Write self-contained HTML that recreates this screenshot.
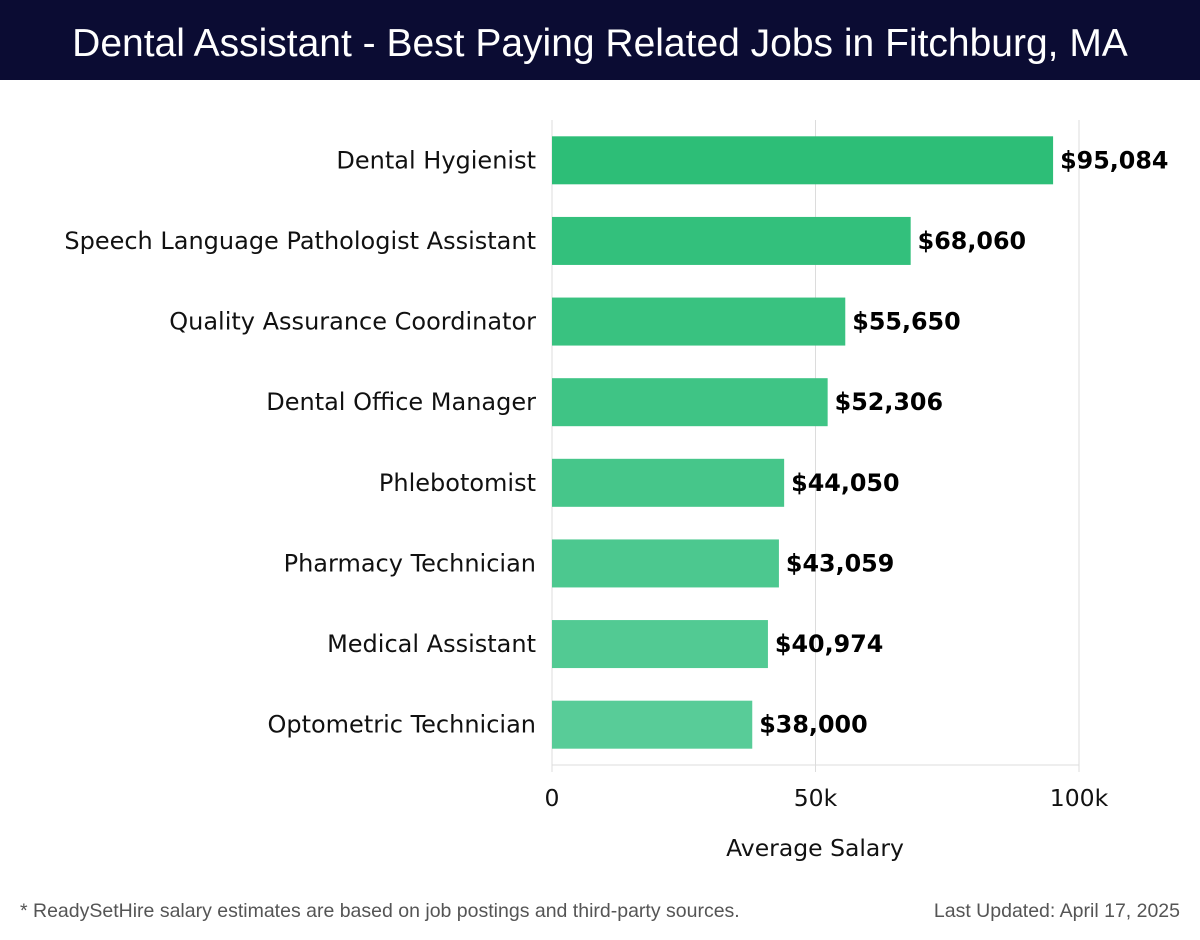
<!DOCTYPE html>
<html><head><meta charset="utf-8"><style>
body{margin:0;width:1200px;height:940px;background:#fff;font-family:"DejaVu Sans","Liberation Sans",sans-serif;position:relative;overflow:hidden}
#title{position:absolute;left:0;top:0;width:1200px;height:80px;background:#0b0c33;color:#fff;font-size:39px;text-align:center;line-height:88px;font-family:"Liberation Sans",sans-serif;font-weight:300}
.foot{position:absolute;top:900px;font-size:19.5px;color:#555;font-family:"Liberation Sans",sans-serif}
</style></head><body>
<div id="title">Dental Assistant - Best Paying Related Jobs in Fitchburg, MA</div>
<svg id="chart" width="1200" height="940" style="position:absolute;left:0;top:0"></svg>
<div class="foot" style="left:20px">* ReadySetHire salary estimates are based on job postings and third-party sources.</div>
<div class="foot" style="right:20px">Last Updated: April 17, 2025</div>
<script>
const categories=["Dental Hygienist","Speech Language Pathologist Assistant","Quality Assurance Coordinator","Dental Office Manager","Phlebotomist","Pharmacy Technician","Medical Assistant","Optometric Technician"];
const salaries=[95084,68060,55650,52306,44050,43059,40974,38000];
const tickValues=[0,50000,100000];
const tickLabels=["0","50k","100k"];
const NS="http://www.w3.org/2000/svg";
const svg=document.getElementById('chart');
const x0=552,x1=1079,maxV=100000,top0=120,bottom=765;
const xs=v=>x0+(v/maxV)*(x1-x0);
const step=(bottom-top0)/categories.length;
const yc=i=>top0+step*(i+0.5);
function mk(t,a){const e=document.createElementNS(NS,t);for(const k in a)e.setAttribute(k,a[k]);svg.appendChild(e);return e;}
tickValues.forEach((v,i)=>{
 const g=mk('line',{x1:xs(v),x2:xs(v),y1:top0,y2:772,stroke:'#dcdcdc','stroke-width':1});
 
 
 const t=mk('text',{x:xs(v),y:806,'text-anchor':'middle','font-size':23.5,fill:'#111'});
 t.textContent=tickLabels[i];
 
 
});
const ax=mk('line',{x1:x0,x2:x1,y1:bottom,y2:bottom,stroke:'#dcdcdc','stroke-width':1});


const at=mk('text',{x:815,y:856,'text-anchor':'middle','font-size':23.5,fill:'#111'});
at.textContent='Average Salary';


const c0=[45,190,119],c1=[88,204,152];
salaries.forEach((v,i)=>{
 const f=categories.length>1?i/(categories.length-1):0;
 const col='rgb('+c0.map((c,k)=>Math.round(c+(c1[k]-c)*f)).join(',')+')';
 const b=mk('rect',{x:x0,y:yc(i)-24,width:xs(v)-x0,height:48,fill:col});
 
 
 const l=mk('text',{x:xs(v)+7,y:yc(i)+8,'font-size':23.8,'font-weight':'bold',fill:'#000'});
 l.textContent='$'+v.toLocaleString('en-US');
 
 
 const c=mk('text',{x:536,y:yc(i)+8,'text-anchor':'end','font-size':24,fill:'#111'});
 c.textContent=categories[i];
 
 
});
</script>
</body></html>
